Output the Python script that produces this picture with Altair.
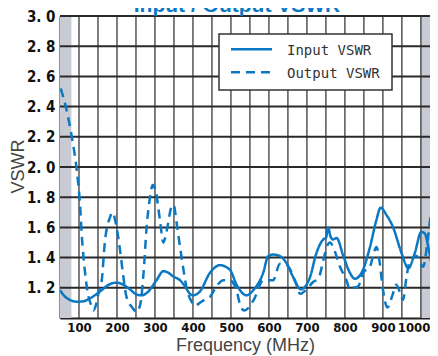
import altair as alt
import pandas as pd

TITLE = "Input / Output VSWR"
SERIES = ["Input VSWR", "Output VSWR"]
X_TITLE = "Frequency (MHz)"
Y_TITLE = "VSWR"

X_GRID = list(range(100, 1001, 50))
X_LABELS = list(range(100, 1001, 100))
Y_GRID = [1.2, 1.4, 1.6, 1.8, 2.0, 2.2, 2.4, 2.6, 2.8, 3.0]
Y_LABELS = [1.2, 1.4, 1.6, 1.8, 2.0, 2.2, 2.4, 2.6, 2.8, 3.0]
X_MIN, X_MAX = 50, 1024
BAND_START = [50, 1000]
BAND_END = [80, 1024]

IN_FREQ = [50, 60, 76, 94, 110, 129, 155, 182, 199, 217, 234, 252, 265, 278, 304, 322, 335, 348,
           366, 379, 392, 400, 418, 445, 471, 497, 515, 541, 559, 585, 598, 611, 629, 647, 664,
           684, 708, 725, 743, 750, 756, 762, 769, 778, 796, 813, 826, 844, 866, 883, 894, 910,
           927, 949, 967, 984, 1001, 1010, 1024, 1041, 1045]
IN_VSWR = [1.185, 1.15, 1.12, 1.108, 1.11, 1.13, 1.175, 1.225, 1.234, 1.22, 1.19, 1.155, 1.15,
           1.165, 1.25, 1.31, 1.30, 1.275, 1.25, 1.21, 1.16, 1.15, 1.175, 1.30, 1.35, 1.32, 1.22,
           1.15, 1.185, 1.30, 1.41, 1.42, 1.41, 1.36, 1.27, 1.19, 1.27, 1.43, 1.52, 1.53, 1.60,
           1.54, 1.52, 1.53, 1.41, 1.30, 1.26, 1.30, 1.47, 1.65, 1.73, 1.68, 1.60, 1.43, 1.33,
           1.43, 1.57, 1.56, 1.41, 1.19, 1.15]

OUT_FREQ = [52, 67, 81, 94, 103, 107, 116, 122, 133, 138, 145, 151, 160, 168, 182, 188, 199, 208,
            217, 225, 240, 252, 262, 270, 278, 287, 294, 302, 313, 322, 331, 344, 349, 357, 366,
            375, 384, 396, 405, 418, 430, 445, 462, 480, 497, 515, 525, 535, 560, 585, 611, 629,
            647, 671, 682, 699, 717, 730, 743, 752, 761, 769, 787, 804, 813, 821, 835, 848, 866,
            874, 883, 892, 900, 912, 925, 935, 945, 953, 962, 971, 989, 1006, 1019, 1027, 1034,
            1041, 1045]
OUT_VSWR = [2.52, 2.38, 2.20, 1.98, 1.74, 1.56, 1.30, 1.18, 1.08, 1.05, 1.09, 1.16, 1.25, 1.50,
            1.67, 1.70, 1.60, 1.45, 1.27, 1.14, 1.07, 1.04, 1.10, 1.30, 1.60, 1.80, 1.88, 1.84,
            1.65, 1.50, 1.58, 1.74, 1.75, 1.63, 1.47, 1.32, 1.19, 1.11, 1.08, 1.10, 1.12, 1.14,
            1.21, 1.25, 1.25, 1.18, 1.08, 1.05, 1.12, 1.25, 1.25, 1.36, 1.35, 1.23, 1.16, 1.19,
            1.24, 1.26, 1.38, 1.47, 1.50, 1.47, 1.34, 1.25, 1.19, 1.20, 1.21, 1.30, 1.34, 1.41,
            1.47, 1.36, 1.19, 1.07, 1.15, 1.22, 1.17, 1.12, 1.27, 1.38, 1.41, 1.34, 1.54, 1.70,
            1.76, 1.70, 1.62]

BLUE = "#0b78c3"
GRID = "#2a2a2a"
BAND = "#c8cbd3"
W, H = 370, 302
NARROW = "Liberation Sans Narrow, Arial Narrow, DejaVu Sans Condensed, Liberation Sans, sans-serif"

lines_df = pd.concat([
    pd.DataFrame({"f": IN_FREQ, "v": IN_VSWR, "s": SERIES[0]}),
    pd.DataFrame({"f": OUT_FREQ, "v": OUT_VSWR, "s": SERIES[1]}),
])

xs = alt.Scale(domain=[X_MIN, X_MAX], nice=False, zero=False)
ys = alt.Scale(domain=[1.0, 3.0], nice=False, zero=False)

x_axis = alt.Axis(values=X_LABELS, format="d", title=X_TITLE, grid=False, ticks=False,
                  domain=True, domainColor="#222", domainWidth=2,
                  labelFont=NARROW, labelFontSize=13, labelFontWeight="bold", labelColor="#111",
                  labelPadding=3, labelOverlap=False, labelFlush=False,
                  labelAlign={"expr": "datum.value == 1000 ? 'right' : 'center'"},
                  labelOffset={"expr": "datum.value == 1000 ? 9 : 0"},
                  titleFont="Liberation Sans", titleFontSize=18, titleFontWeight="normal",
                  titleColor="#444", titleX=185, titleY=32, titleAlign="center",
                  titleBaseline="alphabetic")
y_axis = alt.Axis(values=Y_LABELS, title=Y_TITLE, grid=False, ticks=False,
                  domain=True, domainColor="#222", domainWidth=2,
                  labelExpr="replace(format(datum.value, '.1f'), '.', '. ')",
                  labelFont=NARROW, labelFontSize=15, labelFontWeight="bold", labelColor="#111",
                  labelPadding=5, labelOverlap=False, labelFlush=False,
                  titleFont="Liberation Sans", titleFontSize=18, titleFontWeight="normal",
                  titleColor="#444", titleX=-37, titleY=150, titleAngle=270,
                  titleAlign="center", titleBaseline="alphabetic")

bands = alt.Chart(pd.DataFrame({"f": BAND_START, "f2": BAND_END})).mark_rect(
    color=BAND).encode(
    x=alt.X("f:Q", scale=xs, axis=x_axis), x2="f2:Q",
    y=alt.value(0), y2=alt.value(H))

vgrid = alt.Chart(pd.DataFrame({"f": X_GRID})).mark_rule(
    color=GRID, strokeWidth=1.2).encode(
    x=alt.X("f:Q", scale=xs, axis=x_axis), y=alt.value(0), y2=alt.value(H))

hgrid = alt.Chart(pd.DataFrame({"v": Y_GRID})).mark_rule(
    color=GRID, strokeWidth=2).encode(
    y=alt.Y("v:Q", scale=ys, axis=y_axis), x=alt.value(0), x2=alt.value(W))

lines = alt.Chart(lines_df).mark_line(
    color=BLUE, strokeWidth=2.5, interpolate="monotone", clip=True).encode(
    x=alt.X("f:Q", scale=xs, axis=x_axis),
    y=alt.Y("v:Q", scale=ys, axis=y_axis),
    strokeDash=alt.StrokeDash("s:N", scale=alt.Scale(domain=SERIES, range=[[1, 0], [9, 6]]),
                              legend=None),
    detail="s:N")

# legend box
leg_box = alt.Chart(pd.DataFrame({"s": [SERIES[0]]})).mark_rect(
    fill="white", stroke="#333", strokeWidth=1.5).encode(
    x=alt.value(159), x2=alt.value(332), y=alt.value(18), y2=alt.value(74))
leg_l1 = alt.Chart(pd.DataFrame({"s": [SERIES[0]]})).mark_rule(
    color=BLUE, strokeWidth=2.5).encode(
    x=alt.value(171), x2=alt.value(212), y=alt.value(33.3))
leg_l2 = alt.Chart(pd.DataFrame({"s": [SERIES[1]]})).mark_rule(
    color=BLUE, strokeWidth=2.5, strokeDash=[9, 6]).encode(
    x=alt.value(171), x2=alt.value(212), y=alt.value(56.3))
leg_t1 = alt.Chart(pd.DataFrame({"s": [SERIES[0]]})).mark_text(
    align="left", baseline="alphabetic", font="DejaVu Sans Mono", fontSize=14,
    color="#333").encode(text="s:N", x=alt.value(227), y=alt.value(39))
leg_t2 = alt.Chart(pd.DataFrame({"s": [SERIES[1]]})).mark_text(
    align="left", baseline="alphabetic", font="DejaVu Sans Mono", fontSize=14,
    color="#333").encode(text="s:N", x=alt.value(227), y=alt.value(62))

title = alt.Chart(pd.DataFrame({"t": [TITLE]})).mark_text(
    align="center", baseline="alphabetic", font="Liberation Sans", fontSize=21,
    fontWeight="bold", color=BLUE).encode(text="t:N", x=alt.value(177), y=alt.value(-4))

chart = alt.layer(bands, vgrid, hgrid, lines, leg_box, leg_l1, leg_l2, leg_t1, leg_t2, title
                  ).properties(
    width=W, height=H,
    autosize=alt.AutoSizeParams(type="none"),
    padding={"left": 52, "top": 8, "right": 0, "bottom": 38},
).configure_view(strokeWidth=0).configure(background="white")

chart.save("out.html", embed_options={"renderer": "svg", "actions": False})
